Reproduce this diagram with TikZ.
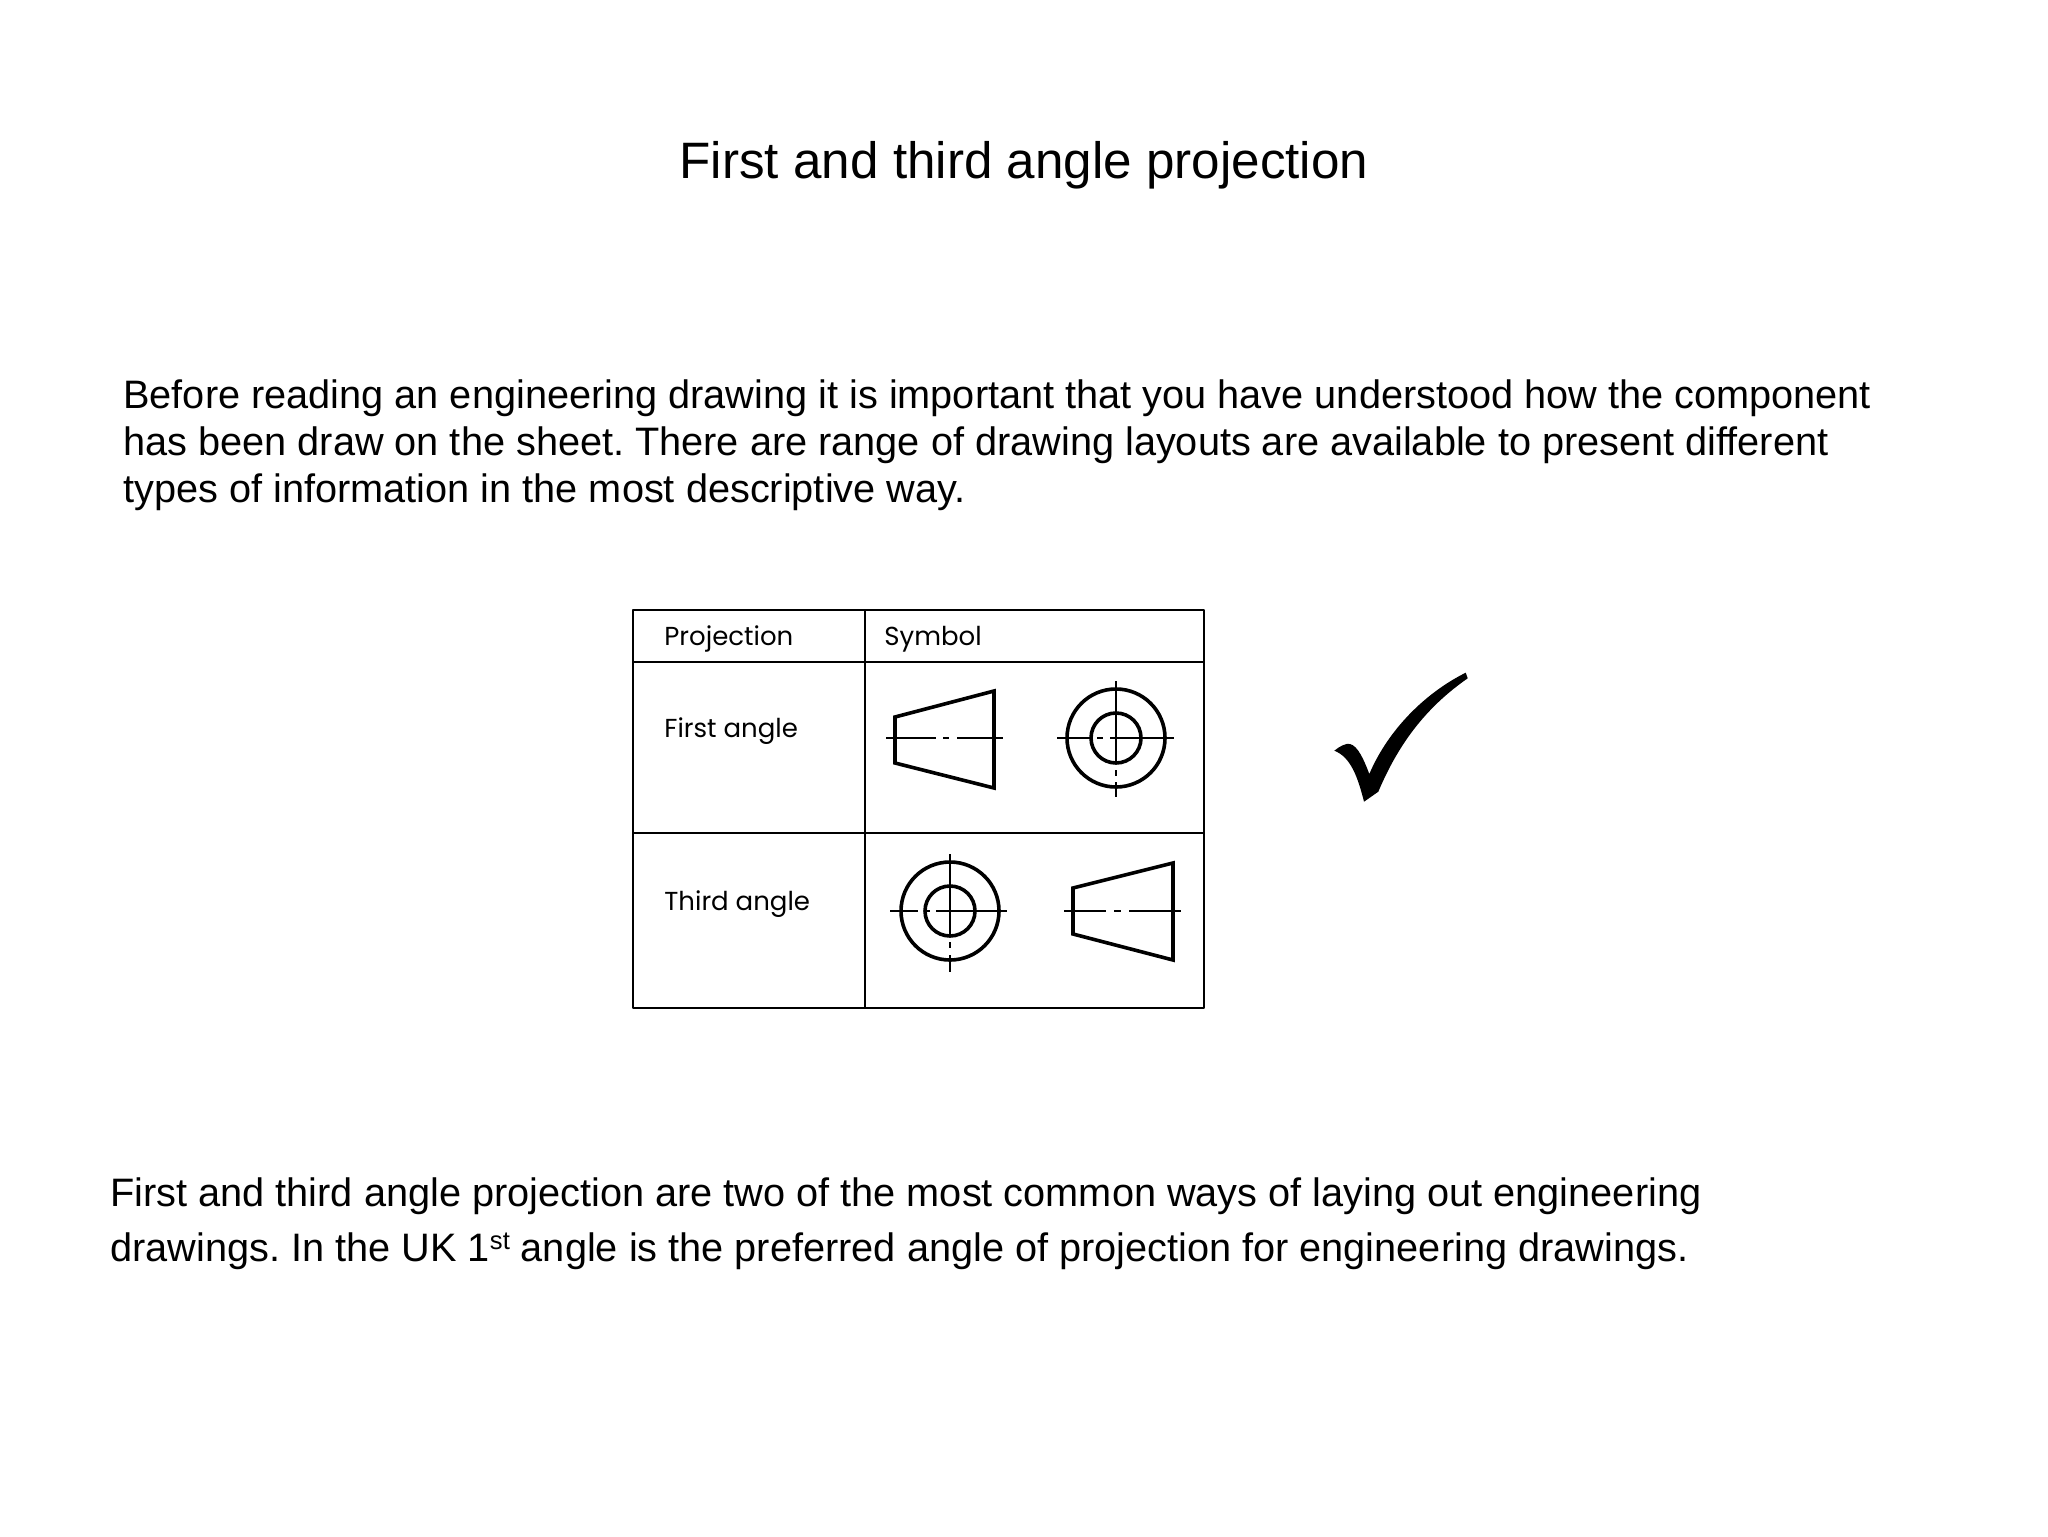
\documentclass[tikz,border=0pt]{standalone}
\usepackage{fontspec}
\setmainfont{Liberation Sans}
\newfontfamily\tablefont{Poppins}
\frenchspacing
\newcommand{\ordinalmark}[1]{\raisebox{6pt}{\fontsize{12.8}{13}\selectfont #1}}
\begin{document}
\begin{tikzpicture}[x=0.5pt,y=-0.5pt,
	title text/.style = {anchor=base,font=\fontsize{25.6}{30}\selectfont},
	body text/.style = {anchor=base west,inner sep=0pt,font=\fontsize{19.85}{24}\selectfont},
	cell text/.style = {anchor=base west,inner sep=0pt,font=\tablefont\fontsize{13}{16}\selectfont},
	grid line/.style = {line width=1.1pt,line join=round},
	outline/.style = {line width=1.8pt,line join=miter},
	centre line/.style = {line width=0.8pt}]
	\useasboundingbox (0,0) rectangle (2048,1536);
	\node[title text] (title) at (1024,178) {First and third angle projection};
	\node[body text] (intro1) at (123,408) {Before reading an engineering drawing it is important that you have understood how the component};
	\node[body text] (intro2) at (123,455) {has been draw on the sheet. There are range of drawing layouts are available to present different};
	\node[body text] (intro3) at (123,502) {types of information in the most descriptive way.};
	\node[body text] (outro1) at (110,1206) {First and third angle projection are two of the most common ways of laying out engineering};
	\node[body text] (outro2) at (110,1261) {drawings. In the UK 1\ordinalmark{st} angle is the preferred angle of projection for engineering drawings.};
	
	% table
	\draw[grid line] (633,610) rectangle (1204,1008);
	\draw[grid line] (633,662) -- (1204,662);
	\draw[grid line] (633,833) -- (1204,833);
	\draw[grid line] (865,610) -- (865,1008);
	\node[cell text] (head1) at (664,645) {Projection};
	\node[cell text] (head2) at (884,645) {Symbol};
	\node[cell text] (first) at (664,737) {First angle};
	\node[cell text] (third) at (664,910) {Third angle};
	
	% first angle symbol
	\draw[outline] (895,717) -- (994,691) -- (994,788) -- (895,763) -- cycle;
	\draw[centre line] (886,738) -- (936,738) (943,738) -- (949,738) (957,738) -- (1003,738);
	\draw[outline] (1116,738) circle (49) (1116,738) circle (25);
	\draw[centre line] (1057,738) -- (1091,738) (1097,738) -- (1103,738) (1110,738) -- (1174,738);
	\draw[centre line] (1116,681) -- (1116,763) (1116,770) -- (1116,776) (1116,782) -- (1116,797);
	
	% third angle symbol
	\draw[outline] (950,911) circle (49) (950,911) circle (25);
	\draw[centre line] (890,911) -- (918,911) (924,911) -- (930,911) (936,911) -- (1007,911);
	\draw[centre line] (950,854) -- (950,935) (950,942) -- (950,948) (950,955) -- (950,972);
	\draw[outline] (1073,888) -- (1173,863) -- (1173,960) -- (1073,934) -- cycle;
	\draw[centre line] (1064,911) -- (1106,911) (1114,911) -- (1121,911) (1129,911) -- (1181,911);
	
	% tick
	\fill (1465.7,672.7) -- (1467.7,678.3)
	.. controls (1425,708) and (1398,745) .. (1378.3,791.7)
	-- (1364,801.7)
	.. controls (1358,778) and (1351,757) .. (1334.3,750.7)
	.. controls (1340,746) and (1346,743) .. (1350,744)
	.. controls (1358,746) and (1364,760) .. (1369.3,774)
	.. controls (1388,730) and (1425,693) .. (1465.7,672.7) -- cycle;
\end{tikzpicture}
\end{document}
